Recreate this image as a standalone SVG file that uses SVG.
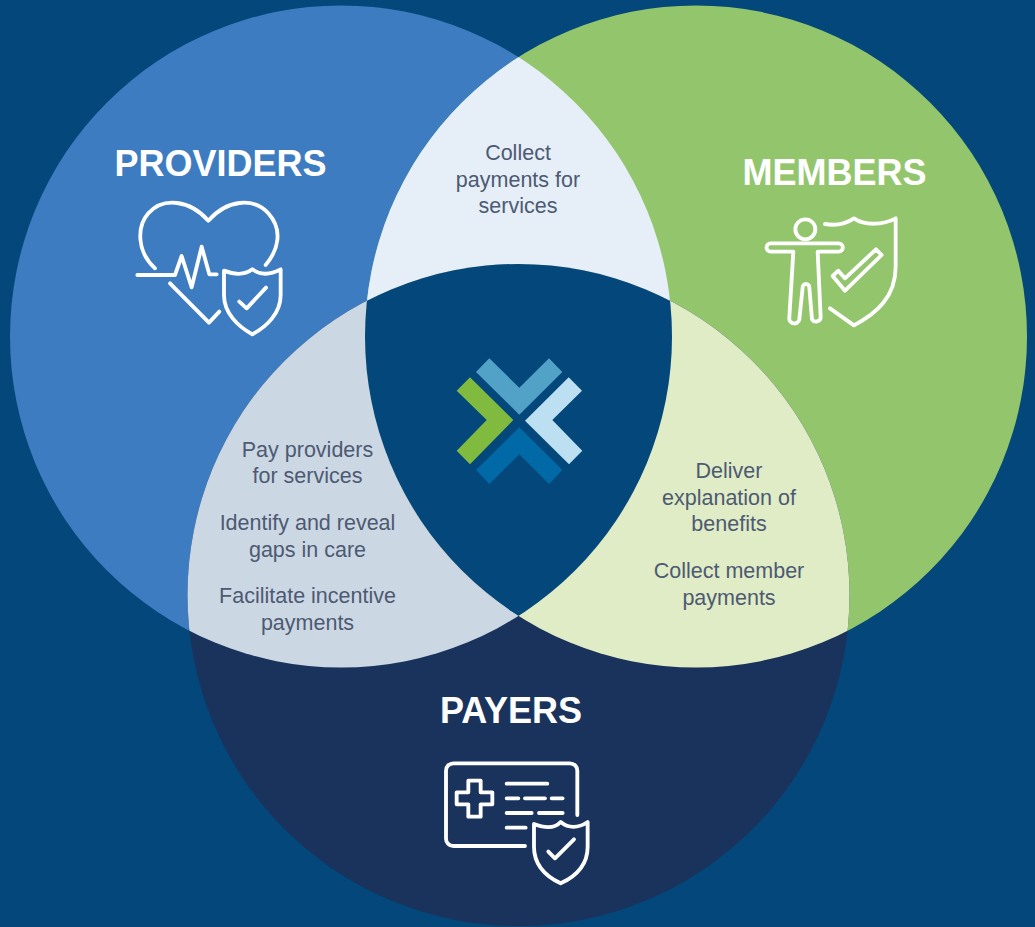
<svg xmlns="http://www.w3.org/2000/svg" width="1035" height="927" viewBox="0 0 1035 927">
<style>
.head{font:bold 36px "Liberation Sans",Arial,sans-serif;fill:#fff;text-anchor:middle}
.body{font:21.500px "Liberation Sans",Arial,sans-serif;fill:#4d5a72;text-anchor:middle}
.ic{fill:none;stroke:#fff;stroke-width:11.500;stroke-linecap:round;stroke-linejoin:round}
</style>
<defs>
<clipPath id="cp"><circle cx="341" cy="336.500" r="331"/></clipPath>
<clipPath id="cm"><circle cx="696" cy="336.500" r="331"/></clipPath>
<clipPath id="cy"><circle cx="518.500" cy="595" r="331"/></clipPath>
</defs>
<rect width="1035" height="927" fill="#04477a"/>
<g id="providers">
<circle cx="341" cy="336.500" r="331" fill="#3d7cc0"/>
</g>
<g id="members">
<circle cx="696" cy="336.500" r="331" fill="#93c66c"/>
</g>
<g id="payers">
<circle cx="518.500" cy="595" r="331" fill="#19335c"/>
</g>
<g id="overlaps">
<g clip-path="url(#cp)"><circle cx="696" cy="336.500" r="331" fill="#e6eff8"/></g>
<g clip-path="url(#cp)"><circle cx="518.500" cy="595" r="331" fill="#ccd7e4"/></g>
<g clip-path="url(#cm)"><circle cx="518.500" cy="595" r="331" fill="#e0ecc6"/></g>
<g clip-path="url(#cp)"><g clip-path="url(#cm)"><circle cx="518.500" cy="595" r="331" fill="#04477a"/></g></g>
</g>
<g id="logo">
<polygon fill="#80bb3f" points="470,377.300 513.300,420 470,464.300 456.700,450.700 486.700,420 456.700,390.700"/>
<polygon fill="#52a2c8" points="489.300,358.300 519.300,387.700 549,358.300 562.300,372 519.300,414.700 476,372"/>
<polygon fill="#bcdff2" points="568.700,377.300 582,390.700 552.300,420 582.300,450.700 569,464.300 525,420.700"/>
<polygon fill="#016aa6" points="519.300,427.300 562.300,470 549,484 519.300,454.300 489.300,484 476,470"/>
</g>
<g id="providers-label">
<text class="head" x="220.500" y="176">PROVIDERS</text>
<g class="ic" transform="translate(120 180) scale(.3333)">
<path d="M105 265C50 215 50 140 85 100C130 50 210 60 265 122C320 60 400 50 445 100C490 150 475 210 437 255"/>
<path d="M52 285H165L185 228L215 322L245 200L268 283H290"/>
<path d="M150 310L267 428L298 395"/>
<path d="M312 272C345 285 375 285 397 268C420 285 450 285 482 268V345C482 400 440 440 397 463C355 440 312 400 312 345Z"/>
<path d="M358 365L380 385L438 323"/>
</g>
</g>
<g id="members-label">
<text class="head" x="834.500" y="185">MEMBERS</text>
<g class="ic" transform="translate(750 200) scale(.3333)">
<circle cx="166" cy="88" r="30"/>
<path d="M130 155H62A12.500 12.500 0 0 1 62 130H266A12.500 12.500 0 0 1 266 155H203L212 352A14 14 0 0 1 186 358L178 262A10 10 0 0 0 158 262L148 358A14 14 0 0 1 118 352Z"/>
<path d="M225 72C260 78 290 70 312 55C345 78 400 75 437 55V200C437 290 380 340 312 376L240 325"/>
<path d="M248 228L285 272L395 165L378 148L285 235L265 212Z"/>
</g>
</g>
<g id="payers-label">
<text class="head" x="511" y="723">PAYERS</text>
<g class="ic" transform="translate(430 750) scale(.3333)">
<path d="M285 288H70A22 22 0 0 1 48 266V62A22 22 0 0 1 70 40H420A22 22 0 0 1 442 62V195"/>
<path d="M115 92H152V127H187V163H152V200H115V163H80V127H115Z"/>
<path d="M230 101H352M230 145H265M285 145H345M365 145H398M230 189H305M327 189H398M230 233H287"/>
<path d="M312 222C345 235 375 235 392 216C415 235 445 235 473 216V290C473 345 435 380 392 400C350 380 312 345 312 290Z"/>
<path d="M355 305L375 325L432 268"/>
</g>
</g>
<g id="provider-member-text">
<text class="body" x="518" y="160">Collect</text>
<text class="body" x="518" y="187">payments for</text>
<text class="body" x="518" y="213">services</text>
</g>
<g id="provider-payer-text">
<text class="body" x="307.500" y="457">Pay providers</text>
<text class="body" x="307.500" y="483">for services</text>
<text class="body" x="307.500" y="530">Identify and reveal</text>
<text class="body" x="307.500" y="557">gaps in care</text>
<text class="body" x="307.500" y="603">Facilitate incentive</text>
<text class="body" x="307.500" y="630">payments</text>
</g>
<g id="member-payer-text">
<text class="body" x="729" y="478">Deliver</text>
<text class="body" x="729" y="505">explanation of</text>
<text class="body" x="729" y="531">benefits</text>
<text class="body" x="729" y="578">Collect member</text>
<text class="body" x="729" y="605">payments</text>
</g>
</svg>
